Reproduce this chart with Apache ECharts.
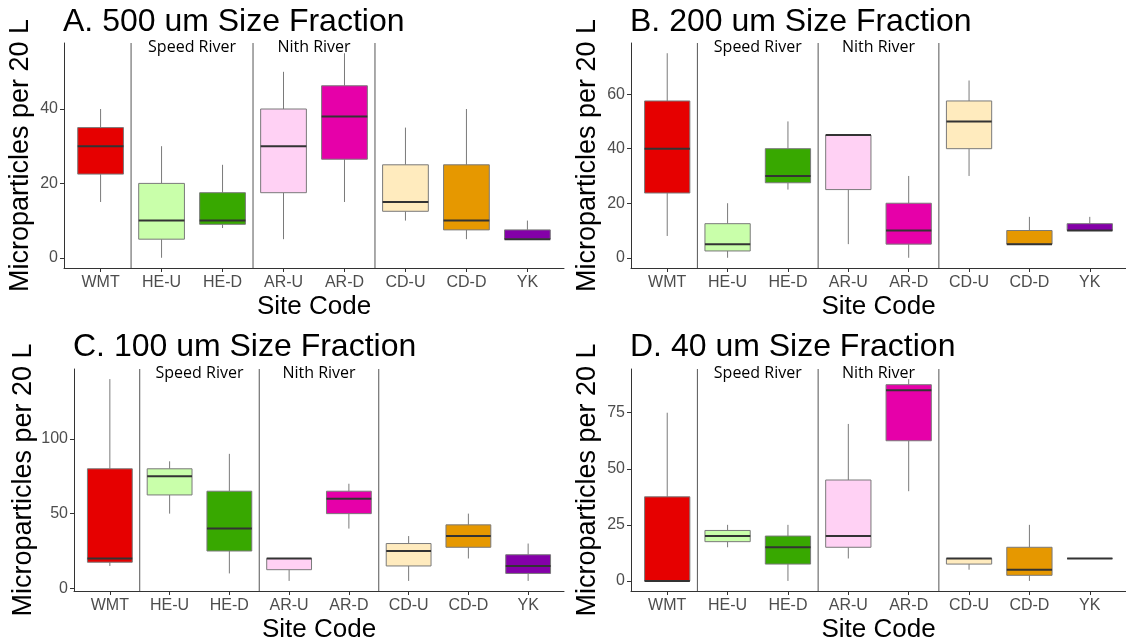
<!DOCTYPE html>
<html>
<head>
<meta charset="utf-8">
<script src="https://cdn.jsdelivr.net/npm/echarts@6/dist/echarts.min.js"></script>
<style>
  html, body { margin: 0; padding: 0; background: #fff; }
  #chart { width: 1126px; height: 644px; }
</style>
</head>
<body>
<div id="chart"></div>
<script>
var sites = ['WMT', 'HE-U', 'HE-D', 'AR-U', 'AR-D', 'CD-U', 'CD-D', 'YK'];
var siteColors = ['#E60000', '#C9FFAA', '#38A800', '#FFD1F4', '#E600A9', '#FFEBBE', '#E69800', '#8400A8'];

// each row: [min, Q1, median, Q3, max]
var box500 = [[15, 22.5, 30, 35, 40], [0, 5, 10, 20, 30], [8, 9, 10, 17.5, 25], [5, 17.5, 30, 40, 50],
              [15, 26.5, 38, 46.25, 55], [10, 12.5, 15, 25, 35], [5, 7.5, 10, 25, 40], [5, 5, 5, 7.5, 10]];
var box200 = [[8, 23.75, 40, 57.5, 75], [0, 2.5, 5, 12.5, 20], [25, 27.5, 30, 40, 50], [5, 25, 45, 45, 45],
              [0, 5, 10, 20, 30], [30, 40, 50, 57.5, 65], [5, 5, 5, 10, 15], [10, 10, 10, 12.5, 15]];
var box100 = [[15, 17.5, 20, 80, 140], [50, 62.5, 75, 80, 85], [10, 25, 40, 65, 90], [5, 12.5, 20, 20, 20],
              [40, 50, 60, 65, 70], [5, 15, 25, 30, 35], [20, 27.5, 35, 42.5, 50], [5, 10, 15, 22.5, 30]];
var box40 = [[0, 0, 0, 37.5, 75], [15, 17.5, 20, 22.5, 25], [0, 7.5, 15, 20, 25], [10, 15, 20, 45, 70],
             [40, 62.5, 85, 87.5, 90], [5, 7.5, 10, 10, 10], [0, 2.5, 5, 15, 25], [10, 10, 10, 10, 10]];

var ticks500 = [0, 20, 40];
var ticks200 = [0, 20, 40, 60];
var ticks100 = [0, 50, 100];
var ticks40 = [0, 25, 50, 75];

var titles = ['A. 500 um Size Fraction', 'B. 200 um Size Fraction', 'C. 100 um Size Fraction', 'D. 40 um Size Fraction'];

// separators sit after these site indexes; river labels span the two sites starting here
var dividerAfter = [0, 2, 4];
var riverNames = ['Speed River', 'Nith River'];
var riverStart = [1, 3];

var panels = [
  { box: box500, ticks: ticks500, grid: { left: 64, top: 43, width: 500, height: 225 }, titleAt: [63, 6] },
  { box: box200, ticks: ticks200, grid: { left: 631, top: 43, width: 500, height: 225 }, titleAt: [630, 6] },
  { box: box100, ticks: ticks100, grid: { left: 74, top: 369, width: 490, height: 224 }, titleAt: [73, 331] },
  { box: box40, ticks: ticks40, grid: { left: 631, top: 369, width: 500, height: 224 }, titleAt: [630, 331] }
];

var siteIdx = sites.map(function (s, i) { return i; });

var chart = echarts.init(document.getElementById('chart'));

var option = {
  animation: false,
  title: [], grid: [], xAxis: [], yAxis: [], series: []
};

panels.forEach(function (p, k) {
  var lo = Infinity, hi = -Infinity;
  p.box.forEach(function (r) { lo = Math.min(lo, r[0]); hi = Math.max(hi, r[4]); });
  var pad = (hi - lo) * 0.05;

  option.title.push({
    text: titles[k], left: p.titleAt[0], top: p.titleAt[1], padding: 0,
    textStyle: { fontFamily: 'Liberation Sans', fontSize: 32, fontWeight: 'normal', color: '#000' }
  });
  option.grid.push(p.grid);
  option.xAxis.push({
    type: 'value', gridIndex: k, min: -0.6, max: sites.length - 0.4,
    name: 'Site Code', nameLocation: 'middle', nameGap: 26,
    nameTextStyle: { fontFamily: 'Liberation Sans', fontSize: 26, color: '#000' },
    axisLine: { onZero: false, lineStyle: { color: '#333', width: 1 } },
    axisTick: { show: true, length: 4, customValues: siteIdx, lineStyle: { color: '#333' } },
    axisLabel: {
      fontFamily: 'Liberation Sans', fontSize: 16, color: '#4D4D4D', margin: 7, customValues: siteIdx,
      formatter: function (v) { return sites[Math.round(v)]; }
    },
    splitLine: { show: false }
  });
  option.yAxis.push({
    type: 'value', gridIndex: k, min: lo - pad, max: hi + pad,
    name: 'Microparticles per 20 L', nameLocation: 'middle', nameRotate: 90, nameGap: 30,
    nameTextStyle: { fontFamily: 'Liberation Sans', fontSize: 27, color: '#000' },
    axisLine: { show: true, onZero: false, lineStyle: { color: '#333', width: 1 } },
    axisTick: { show: true, length: 4, customValues: p.ticks, lineStyle: { color: '#333' } },
    axisLabel: { fontFamily: 'Liberation Sans', fontSize: 16, color: '#4D4D4D', margin: 6, customValues: p.ticks },
    splitLine: { show: false }
  });

  // river dividers
  option.series.push({
    type: 'custom', xAxisIndex: k, yAxisIndex: k, silent: true, z: 1,
    data: dividerAfter.map(function (i) { return [i, lo]; }),
    encode: { x: 0, y: 1 },
    renderItem: function (params, api) {
      var x = api.coord([api.value(0) + 0.5, lo])[0];
      var cs = params.coordSys;
      return {
        type: 'line',
        shape: { x1: x, y1: cs.y, x2: x, y2: cs.y + cs.height },
        style: { stroke: '#555', lineWidth: 1 }
      };
    }
  });

  // river labels
  option.series.push({
    type: 'custom', xAxisIndex: k, yAxisIndex: k, silent: true, z: 3,
    data: riverStart.map(function (i, j) { return [i, lo, j]; }),
    encode: { x: 0, y: 1 },
    renderItem: function (params, api) {
      var x = api.coord([api.value(0) + 0.5, lo])[0];
      return {
        type: 'text',
        style: {
          x: x, y: params.coordSys.y - 4, text: riverNames[api.value(2)],
          fill: '#000', font: '16px "Open Sans"', textAlign: 'center', textVerticalAlign: 'top'
        }
      };
    }
  });

  // boxes
  option.series.push({
    type: 'custom', xAxisIndex: k, yAxisIndex: k, z: 2,
    data: p.box.map(function (r, i) { return [i].concat(r); }),
    encode: { x: 0, y: [1, 2, 3, 4, 5] },
    renderItem: function (params, api) {
      var i = api.value(0);
      var cx = api.coord([i, api.value(3)])[0];
      var bw = api.size([1, 0])[0] * 0.75;
      var yMin = api.coord([i, api.value(1)])[1];
      var yQ1 = api.coord([i, api.value(2)])[1];
      var yMed = api.coord([i, api.value(3)])[1];
      var yQ3 = api.coord([i, api.value(4)])[1];
      var yMax = api.coord([i, api.value(5)])[1];
      var grey = '#7A7A7A';
      return {
        type: 'group',
        children: [
          { type: 'line', shape: { x1: cx, y1: yMax, x2: cx, y2: yQ3 }, style: { stroke: grey, lineWidth: 1 } },
          { type: 'line', shape: { x1: cx, y1: yQ1, x2: cx, y2: yMin }, style: { stroke: grey, lineWidth: 1 } },
          { type: 'rect', shape: { x: cx - bw / 2, y: yQ3, width: bw, height: yQ1 - yQ3 },
            style: { fill: siteColors[i], stroke: grey, lineWidth: 1 } },
          { type: 'line', shape: { x1: cx - bw / 2, y1: yMed, x2: cx + bw / 2, y2: yMed },
            style: { stroke: '#333', lineWidth: 2 } }
        ]
      };
    }
  });
});

chart.setOption(option);
</script>
</body>
</html>
